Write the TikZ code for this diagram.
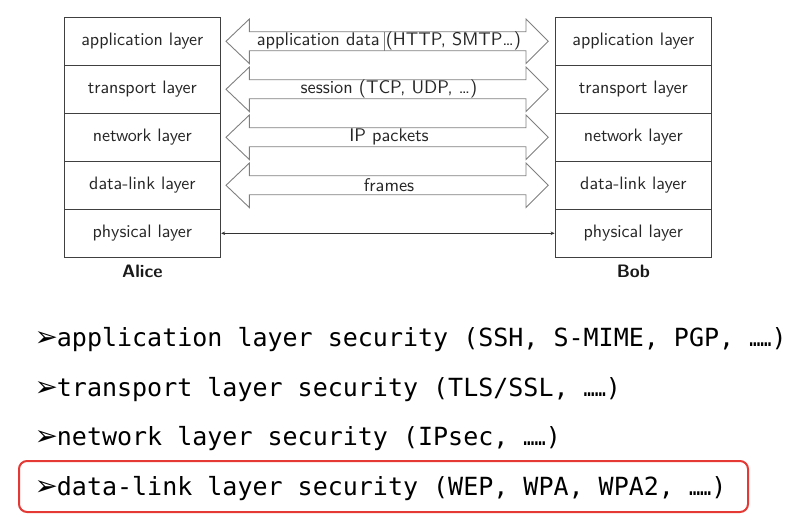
\documentclass[tikz,border=0pt]{standalone}
\usepackage{fontspec}
\setmonofont{DejaVu Sans Mono}
\newfontfamily\symfont{DejaVu Sans}
\newfontfamily\lmss{lmsans10-regular.otf}[BoldFont=lmsans10-bold.otf]
\usetikzlibrary{arrows.meta}
\definecolor{boxred}{RGB}{229,57,53}
\begin{document}
\begin{tikzpicture}[x=1pt,y=-1pt,
  layer/.style={draw=black!75, line width=0.9pt, minimum width=156.7pt, minimum height=48pt, inner sep=0pt, font=\lmss\fontsize{18}{21}\selectfont, text=black!85},
  blockarr/.style={draw=black!50, line width=0.9pt, fill=white, line join=miter},
  arrlabel/.style={font=\lmss\fontsize{18.3}{21}\selectfont, inner sep=0pt, text=black!85},
  who/.style={font=\lmss\bfseries\fontsize{18}{21}\selectfont, inner sep=0pt, text=black!90},
  sec/.style={anchor=base west, inner sep=0pt, font=\ttfamily\fontsize{25}{28}\selectfont},
  bul/.style={anchor=base west, inner sep=0pt, font=\symfont\fontsize{28}{30}\selectfont},
  redbox/.style={draw=boxred, line width=2pt, rounded corners=8pt},
  phys/.style={{Stealth[length=4pt,width=3.5pt]}-{Stealth[length=4pt,width=3.5pt]}, draw=black!80, line width=0.7pt},
]
\useasboundingbox (0,0) rectangle (808,526);

% Alice stack
\node[layer] (a1) at (142.35,41.3)  {application layer};
\node[layer] (a2) at (142.35,89.3)  {transport layer};
\node[layer] (a3) at (142.35,137.3) {network layer};
\node[layer] (a4) at (142.35,185.3) {data-link layer};
\node[layer] (a5) at (142.35,233.3) {physical layer};
\node[who] (alice) at (142.35,271.5) {Alice};

% Bob stack
\node[layer] (b1) at (633.35,41.3)  {application layer};
\node[layer] (b2) at (633.35,89.3)  {transport layer};
\node[layer] (b3) at (633.35,137.3) {network layer};
\node[layer] (b4) at (633.35,185.3) {data-link layer};
\node[layer] (b5) at (633.35,233.3) {physical layer};
\node[who] (bob) at (633.35,271.5) {Bob};

% block arrows
\foreach \c/\t/\n in {41.3/{application data (HTTP, SMTP\ldots)}/l1,
                      89.3/{session (TCP, UDP, \ldots)}/l2,
                      137.3/{IP packets}/l3,
                      185.3/{frames}/l4}{
  \draw[blockarr] (226,\c) -- (249.3,\c-22.2) -- (249.3,\c-9.5) -- (526,\c-9.5)
     -- (526,\c-22.2) -- (548.3,\c) -- (526,\c+22.2) -- (526,\c+9.5)
     -- (249.3,\c+9.5) -- (249.3,\c+22.2) -- cycle;
  \node[arrlabel] (\n) at (389,\c) {\t};
}
\draw[black!50, line width=0.6pt] (384,31.8) -- (384,50.8);

% physical link
\draw[phys] (a5.east) -- (b5.west);

% security list
\node[bul] (m1) at (34.5,347) {➢};
\node[sec] (s1) at (56.7,347) {application layer security (SSH, S-MIME, PGP, \scalebox{0.74}[1]{……})};
\node[bul] (m2) at (34.5,396) {➢};
\node[sec] (s2) at (56.7,396) {transport layer security (TLS/SSL, \scalebox{0.74}[1]{……})};
\node[bul] (m3) at (34.5,445) {➢};
\node[sec] (s3) at (56.7,445) {network layer security (IPsec, \scalebox{0.74}[1]{……})};
\node[bul] (m4) at (34.5,495) {➢};
\node[sec] (s4) at (56.7,495) {data-link layer security (WEP, WPA, WPA2, \scalebox{0.74}[1]{……})};

\draw[redbox] (19,461) rectangle (748,512);
\end{tikzpicture}
\end{document}
